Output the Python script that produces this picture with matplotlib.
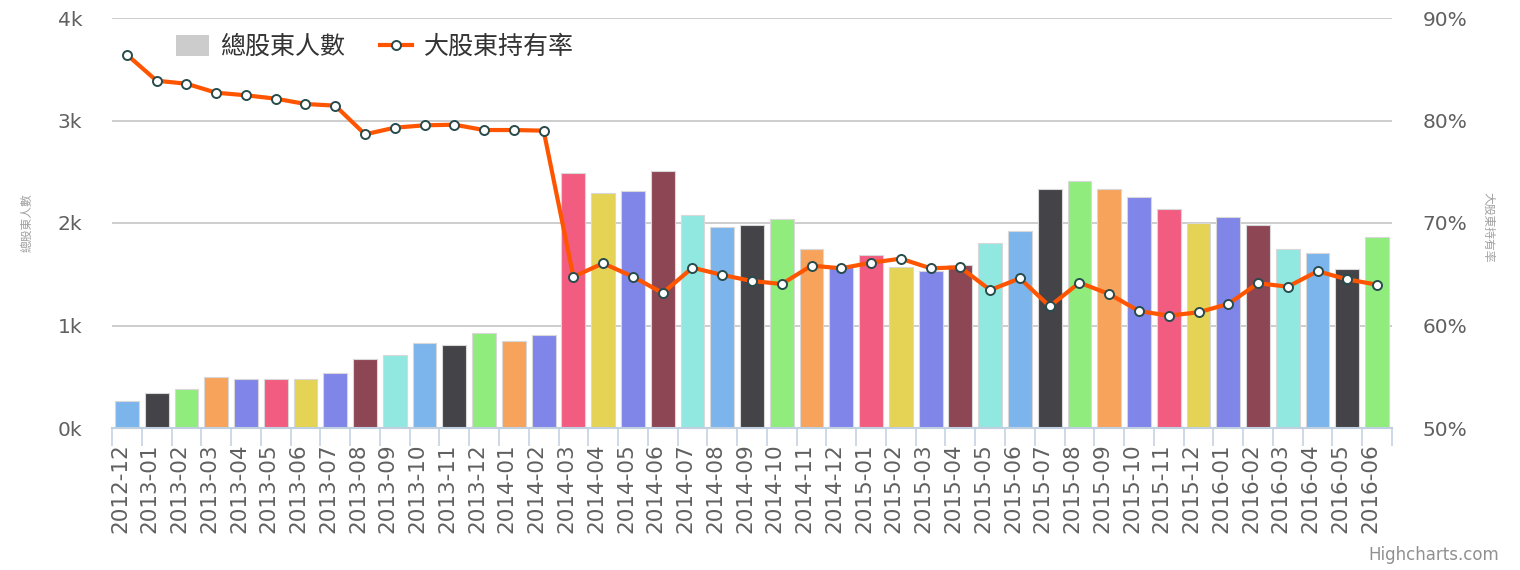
import matplotlib
matplotlib.use("Agg")
import matplotlib.pyplot as plt
from matplotlib.patches import Patch
from matplotlib.lines import Line2D
from matplotlib.font_manager import FontProperties
from matplotlib.transforms import ScaledTranslation
import numpy as np

categories = [
    "2012-12",
    "2013-01", "2013-02", "2013-03", "2013-04", "2013-05", "2013-06",
    "2013-07", "2013-08", "2013-09", "2013-10", "2013-11", "2013-12",
    "2014-01", "2014-02", "2014-03", "2014-04", "2014-05", "2014-06",
    "2014-07", "2014-08", "2014-09", "2014-10", "2014-11", "2014-12",
    "2015-01", "2015-02", "2015-03", "2015-04", "2015-05", "2015-06",
    "2015-07", "2015-08", "2015-09", "2015-10", "2015-11", "2015-12",
    "2016-01", "2016-02", "2016-03", "2016-04", "2016-05", "2016-06",
]

total_holders = [
    266,
    345, 384, 498, 478, 478, 478,
    540, 676, 715, 833, 813, 930,
    852, 911, 2488, 2293, 2312, 2507,
    2078, 1961, 1980, 2039, 1746, 1567,
    1688, 1571, 1532, 1590, 1805, 1925,
    2332, 2410, 2332, 2254, 2137, 2000,
    2059, 1980, 1746, 1707, 1551, 1863,
]

major_ratio = [
    86.42,
    83.88, 83.59, 82.71, 82.46, 82.13, 81.61,
    81.45, 78.65, 79.30, 79.53, 79.59, 79.07,
    79.07, 79.01, 64.76, 66.07, 64.76, 63.17,
    65.64, 64.93, 64.34, 64.05, 65.84, 65.58,
    66.13, 66.52, 65.58, 65.68, 63.46, 64.60,
    61.87, 64.18, 63.07, 61.41, 60.96, 61.29,
    62.10, 64.12, 63.79, 65.29, 64.50, 63.98,
]

left_ticks = [0, 1000, 2000, 3000, 4000]
left_tick_labels = ["0k", "1k", "2k", "3k", "4k"]
right_ticks = [50, 60, 70, 80, 90]
right_tick_labels = ["50%", "60%", "70%", "80%", "90%"]

bar_label = "總股東人數"
line_label = "大股東持有率"

palette = ['#7cb5ec', '#434348', '#90ed7d', '#f7a35c', '#8085e9',
           '#f15c80', '#e4d354', '#8085e8', '#8d4653', '#91e8e1']

W, H = 1520, 570
fig = plt.figure(figsize=(W / 100, H / 100), dpi=100)
L, R, T, B = 112, 1392, 18, 428
ax = fig.add_axes([L / W, (H - B) / H, (R - L) / W, (B - T) / H])
ax2 = ax.twinx()

cjk = ['Noto Sans CJK TC', 'DejaVu Sans']
tick_color = '#606060'

x = np.arange(len(categories))
colors = [palette[i % len(palette)] for i in range(len(categories))]
ax.bar(x, total_holders, width=0.8, color=colors, edgecolor='#d8d8d8',
       linewidth=0.8, zorder=2)

ax.set_xlim(-0.5, len(categories) - 0.5)
ax.set_ylim(0, 4000)
ax.set_yticks(left_ticks)
ax.set_yticklabels(left_tick_labels)
ax.grid(axis='y', color='#c0c0c0', linewidth=1.1, zorder=0)
ax.set_axisbelow(True)

ax.set_xticks(x)
ax.set_xticklabels(categories, rotation=90, fontsize=15.5, color=tick_color)
ax.set_xticks(np.arange(len(categories) + 1) - 0.5, minor=True)
ax.tick_params(axis='x', which='major', length=0, pad=11)
ax.tick_params(axis='x', which='minor', length=13, width=1.1, color='#c0d0e0')
ax.tick_params(axis='y', length=0, pad=21.5, labelsize=14.5, labelcolor=tick_color)
shift = ScaledTranslation(-7 / 100, 0, fig.dpi_scale_trans)
for lab in ax.get_xticklabels():
    lab.set_transform(lab.get_transform() + shift)

for s in ['top', 'left', 'right']:
    ax.spines[s].set_visible(False)
    ax2.spines[s].set_visible(False)
ax2.spines['bottom'].set_visible(False)
ax.spines['bottom'].set_color('#c0d0e0')
ax.spines['bottom'].set_linewidth(1.5)
ax.spines['bottom'].set_zorder(3)

line_color = '#ff5500'
ax2.plot(x, major_ratio, color=line_color, linewidth=3, marker='o',
         markersize=6.5, markerfacecolor='white', markeredgecolor='#284c4c',
         markeredgewidth=1.4, zorder=5)
ax2.set_ylim(50, 90)
ax2.set_yticks(right_ticks)
ax2.set_yticklabels(right_tick_labels)
ax2.tick_params(axis='y', length=0, pad=22, labelsize=14.5, labelcolor=tick_color)

fig.text(27 / W, 1 - 223 / H, bar_label, rotation=90, ha='center', va='center',
         fontsize=8.5, color='#a0a0a0', family=cjk)
fig.text(1488 / W, 1 - 227 / H, line_label, rotation=270, ha='center', va='center',
         fontsize=8.5, color='#a0a0a0', family=cjk)

handles = [
    Patch(facecolor='#cccccc', edgecolor='none'),
    Line2D([], [], color=line_color, linewidth=3, marker='o', markersize=6.5,
           markerfacecolor='white', markeredgecolor='#284c4c', markeredgewidth=1.4),
]
leg = fig.legend(handles, [bar_label, line_label], loc='upper left',
                 bbox_to_anchor=(176 / W, 1 - 34 / H), ncol=2, frameon=False,
                 borderpad=0, borderaxespad=0, handlelength=1.3, handleheight=0.9,
                 handletextpad=0.45, columnspacing=1.4,
                 prop=FontProperties(family=cjk, size=18),
                 labelcolor='#333333')

fig.text(1499 / W, 1 - 555 / H, "Highcharts.com", ha='right', va='center',
         fontsize=12, color='#909090')

fig.savefig("out.png", dpi=100)
